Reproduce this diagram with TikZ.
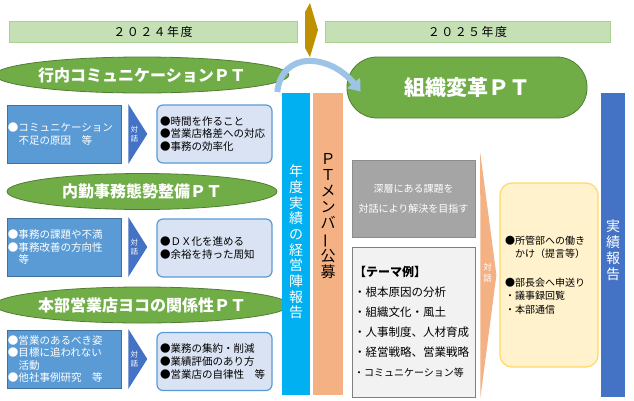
\documentclass[tikz,border=0pt]{standalone}
\usepackage{fontspec}
\setmainfont{Noto Sans CJK JP}
\usetikzlibrary{shapes.geometric,arrows.meta,positioning}

\definecolor{ptgreen}{HTML}{70AD47}
\definecolor{ptedge}{HTML}{507E32}
\definecolor{yearfill}{HTML}{C5E0B4}
\definecolor{yearedge}{HTML}{A9D18E}
\definecolor{issuefill}{HTML}{5B9BD5}
\definecolor{issueedge}{HTML}{41719C}
\definecolor{talkblue}{HTML}{4472C4}
\definecolor{goalfill}{HTML}{DAE3F3}
\definecolor{goaledge}{HTML}{5B9BD5}
\definecolor{barcyan}{HTML}{00B0F0}
\definecolor{barorange}{HTML}{F4B183}
\definecolor{goldarrow}{HTML}{BF9000}
\definecolor{arcblue}{HTML}{9DC3E6}
\definecolor{aimgrey}{HTML}{A5A5A5}
\definecolor{themefill}{HTML}{F2F2F2}
\definecolor{themeedge}{HTML}{7F7F7F}
\definecolor{outfill}{HTML}{FFF2CC}
\definecolor{outedge}{HTML}{FFD966}

\begin{document}
\begin{tikzpicture}[
  x=1pt, y=-1pt,
  yearbar/.style={
    rectangle, draw=yearedge, fill=yearfill, minimum width=#1,
    minimum height=21pt, inner sep=0pt,
    font=\fontsize{12}{14}\selectfont\addfontfeature{LetterSpace=12}
  },
  ptoval/.style={
    ellipse, draw=ptedge, fill=ptgreen, line width=0.8pt,
    minimum width=270pt, minimum height=36pt, inner sep=0pt,
    text=white, font=\bfseries\fontsize{16}{18}\selectfont
  },
  issuebox/.style={
    rectangle, draw=issueedge, fill=issuefill, line width=0.6pt,
    text width=112pt, minimum height=58pt, inner sep=1pt, align=left,
    text=white, font=\fontsize{10.5}{12.5}\selectfont
  },
  goalbox/.style={
    rectangle, rounded corners=6pt, draw=goaledge, fill=goalfill, line width=1.2pt,
    text width=109pt, minimum height=58pt, inner sep=3pt, align=left,
    font=\fontsize{10.5}{12.8}\selectfont
  },
  talk/.style={text=white, align=center, inner sep=0pt, font=\fontsize{7.5}{9.5}\selectfont},
  vbar/.style={rectangle, fill=#1, minimum height=302pt, inner sep=0pt},
  vtext/.style={align=center, inner sep=0pt, font=\fontsize{14}{15.7}\selectfont},
  reformbox/.style={
    rectangle, rounded corners=30pt, draw=ptedge, fill=ptgreen, line width=0.8pt,
    minimum width=240pt, minimum height=61pt, inner sep=0pt,
    text=white, font=\bfseries\fontsize{21}{24}\selectfont
  },
  aimbox/.style={
    rectangle, draw=aimgrey!85!black, fill=aimgrey, minimum width=123pt,
    minimum height=77pt, align=center, text=white, font=\fontsize{10}{20}\selectfont
  },
  themebox/.style={
    rectangle, draw=themeedge, fill=themefill, line width=0.9pt,
    text width=119pt, minimum height=150pt, inner sep=2pt, align=left,
    font=\fontsize{11.5}{20}\selectfont
  },
  outbox/.style={
    rectangle, rounded corners=12pt, draw=outedge, fill=outfill, line width=1.2pt,
    text width=88pt, minimum height=184pt, inner sep=5pt, align=left,
    font=\fontsize{10}{13.5}\selectfont
  },
  reformarrow/.style={arcblue, line width=6pt, -{Triangle[width=16pt,length=11pt]}},
]
  \useasboundingbox (0,0) rectangle (634,400);
  \fill[white] (0,0) rectangle (634,400);

  % Year headers
  \node[yearbar=288pt] (y2024) at (153,31.5) {２０２４年度};
  \node[yearbar=285pt] (y2025) at (467.5,31.5) {２０２５年度};
  \fill[goldarrow] (305,12) -- (310,3) -- (318,30) -- (310,57) -- (305,48) -- cycle;

  % 2024: three PT rows
  \node[ptoval] (pt1) at (142,75) {行内コミュニケーションＰＴ};
  \node[issuebox] (issue1) at (64,134) {●コミュニケーション\\\hspace*{1em}不足の原因　等};
  \node[goalbox] (goal1) at (214.5,134) {●時間を作ること\\●営業店格差への対応\\●事務の効率化};

  \node[ptoval] (pt2) at (142,191.5) {内勤事務態勢整備ＰＴ};
  \node[issuebox] (issue2) at (64,247) {●事務の課題や不満\\●事務改善の方向性\\\hspace*{1em}等};
  \node[goalbox] (goal2) at (214.5,248) {●ＤＸ化を進める\\●余裕を持った周知};

  \node[ptoval] (pt3) at (142,305) {本部営業店ヨコの関係性ＰＴ};
  \node[issuebox] (issue3) at (64,359) {●営業のあるべき姿\\●目標に追われない\\\hspace*{1em}活動\\●他社事例研究　等};
  \node[goalbox] (goal3) at (214.5,361.5) {●業務の集約・削減\\●業績評価のあり方\\●営業店の自律性　等};

  % Dialogue chevrons
  \foreach \i in {1,2,3}{
    \fill[talkblue] ([shift={(7,-30)}]issue\i.east) -- ([shift={(26,0)}]issue\i.east)
      -- ([shift={(7,30)}]issue\i.east) -- cycle;
    \node[talk] (talk\i) at ([xshift=13pt]issue\i.east) {対\\話};
  }

  % Vertical bars
  \node[vbar=barcyan, minimum width=28pt] (report) at (296,244) {};
  \node[vtext, text=white] (reporttext) at ([yshift=2pt]report.center)
    {年\\度\\実\\績\\の\\経\\営\\陣\\報\\告};
  \node[vbar=barorange, minimum width=30pt] (recruit) at (328,244) {};
  \node[vtext, font=\fontsize{15}{16}\selectfont] (recruittext) at ([yshift=28pt]recruit.center)
    {Ｐ\\Ｔ\\メ\\ン\\バ\\\rotatebox[origin=c]{90}{ー}\\公\\募};
  \node[vbar=talkblue, minimum width=24pt, minimum height=304pt] (result) at (613,245) {};
  \node[vtext, text=white, font=\fontsize{14}{16}\selectfont] (resulttext) at ([yshift=-5pt]result.center)
    {実\\績\\報\\告};

  % 2025: organisation reform PT
  \node[reformbox] (reform) at (467,87.5) {組織変革ＰＴ};
  \node[aimbox] (aim) at (413.5,198.5) {深層にある課題を\\対話により解決を目指す};
  \node[themebox] (theme) at (413.5,322)
    {{\bfseries\fontsize{12}{20}\selectfont 【テーマ例】}\\・根本原因の分析\\・組織文化・風土\\・人事制度、人材育成\\・経営戦略、営業戦略\\{\fontsize{10}{20}\selectfont ・コミュニケーション等}};
  \node[outbox] (out) at (549,275)
    {●所管部への働き\\\hspace*{1em}かけ（提言等）\\[15pt]●部長会へ申送り\\・議事録回覧\\・本部通信};

  % Big dialogue chevron
  \fill[barorange] ([shift={(5,-7)}]aim.north east) -- ([xshift=-3pt]out.west)
    -- ([xshift=5pt]theme.south east) -- cycle;
  \node[talk, font=\fontsize{8.5}{10.5}\selectfont] (talk4) at (487.5,273) {対\\話};

  % Arc from 2024 PT to 2025 PT
  \coordinate (arcfrom) at ([shift={(-12,17)}]pt1.east);
  \coordinate (arcto) at ([shift={(14,4)}]reform.west);
  \draw[reformarrow] (arcfrom) .. controls (282,50) and (330,54) .. (arcto);
\end{tikzpicture}
\end{document}
